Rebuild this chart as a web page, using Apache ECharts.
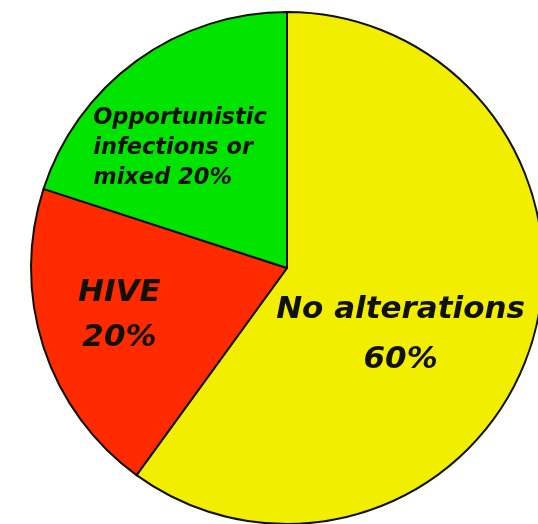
<!DOCTYPE html>
<html>
<head>
<meta charset="utf-8">
<script src="https://cdn.jsdelivr.net/npm/echarts@6/dist/echarts.min.js"></script>
<style>
  html, body { margin: 0; padding: 0; background: #ffffff; }
  #chart { width: 538px; height: 524px; }
</style>
</head>
<body>
<div id="chart"></div>
<script>
// Slices, clockwise from 12 o'clock
const categories = ['No alterations', 'HIVE', 'Opportunistic infections or mixed'];
const values = [60, 20, 20];
const sliceColors = ['#f2ee00', '#ff2a00', '#00e400'];

const textColor = '#111100';
const fontFamily = '"DejaVu Sans", "Liberation Sans", Arial, sans-serif';

function labelFor(index) {
  const pct = values[index] + '%';
  if (index === 0) {
    return {
      formatter: 'No alterations\n' + pct,
      fontSize: 31,
      lineHeight: 50,
      offset: [-11, 26]
    };
  }
  if (index === 1) {
    return {
      formatter: 'HIVE\n' + pct,
      fontSize: 31,
      lineHeight: 45,
      offset: [-43, 7]
    };
  }
  return {
    formatter: '{g|Opportunistic}\n{g|infections or}\n{g|mixed ' + pct + '}',
    offset: [-30, -14],
    rich: {
      g: {
        fontSize: 22.5,
        lineHeight: 30,
        fontWeight: 'bold',
        fontStyle: 'italic',
        fontFamily: fontFamily,
        color: textColor,
        align: 'left'
      }
    }
  };
}

const seriesData = categories.map((name, i) => ({
  name: name,
  value: values[i],
  itemStyle: { color: sliceColors[i] },
  label: labelFor(i)
}));

const chart = echarts.init(document.getElementById('chart'), null, { renderer: 'canvas' });
chart.setOption({
  animation: false,
  backgroundColor: '#ffffff',
  series: [{
    type: 'pie',
    center: [287, 268],
    radius: [0, 256],
    startAngle: 90,
    clockwise: true,
    silent: true,
    itemStyle: { borderColor: '#111100', borderWidth: 2 },
    label: {
      show: true,
      position: 'inside',
      color: textColor,
      fontWeight: 'bold',
      fontStyle: 'italic',
      fontFamily: fontFamily
    },
    labelLine: { show: false },
    emphasis: { disabled: true },
    data: seriesData
  }]
});
</script>
</body>
</html>
